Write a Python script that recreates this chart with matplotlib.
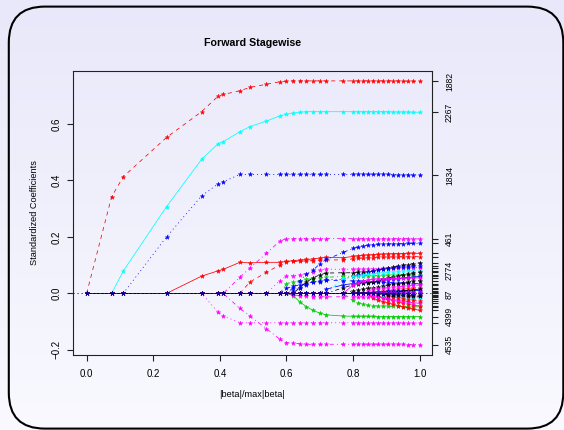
import matplotlib
matplotlib.use('Agg')
import matplotlib.pyplot as plt
from matplotlib.patches import FancyBboxPatch
from matplotlib.colors import LinearSegmentedColormap
import numpy as np

plt.rcParams['font.family'] = ['Liberation Sans', 'DejaVu Sans']
plt.rcParams['lines.scale_dashes'] = False

# step positions |beta|/max|beta| ---------------------------------------------
steps = [0.000, 0.075, 0.110, 0.240, 0.345, 0.395, 0.410, 0.460, 0.490, 0.540, 0.580,
         0.600, 0.620, 0.640, 0.660, 0.680, 0.700, 0.720, 0.770, 0.800, 0.815, 0.830,
         0.845, 0.860, 0.875, 0.890, 0.905, 0.920, 0.935, 0.950, 0.965, 0.980, 1.000]

# coefficient paths (values at each step) -------------------------------------
v1882 = [0, 0.342, 0.413, 0.552, 0.643, 0.698, 0.704, 0.717, 0.729, 0.740, 0.749,
         0.751, 0.752, 0.752, 0.752, 0.752, 0.752, 0.752, 0.752, 0.752, 0.752, 0.752,
         0.752, 0.752, 0.752, 0.752, 0.752, 0.752, 0.752, 0.751, 0.751, 0.751, 0.750]
v2267 = [0, 0, 0.079, 0.307, 0.474, 0.530, 0.537, 0.572, 0.590, 0.610, 0.628,
         0.634, 0.638, 0.641, 0.643, 0.643, 0.643, 0.643, 0.643, 0.643, 0.643, 0.643,
         0.643, 0.643, 0.643, 0.643, 0.643, 0.642, 0.642, 0.642, 0.642, 0.641, 0.641]
v1834 = [0, 0, 0, 0.200, 0.345, 0.388, 0.395, 0.421, 0.421, 0.421, 0.421,
         0.421, 0.421, 0.421, 0.421, 0.421, 0.421, 0.421, 0.421, 0.421, 0.421, 0.421,
         0.421, 0.421, 0.421, 0.421, 0.421, 0.420, 0.420, 0.420, 0.420, 0.419, 0.419]
v461 = [0, 0, 0, 0, 0, 0, 0, 0.057, 0.090, 0.142, 0.185,
        0.194, 0.194, 0.194, 0.194, 0.194, 0.194, 0.194, 0.194, 0.194, 0.194, 0.194,
        0.194, 0.194, 0.194, 0.194, 0.194, 0.194, 0.194, 0.194, 0.194, 0.193, 0.193]
v_red_a = [0, 0, 0, 0, 0.061, 0.080, 0.085, 0.110, 0.108, 0.110, 0.110,
           0.113, 0.116, 0.118, 0.120, 0.122, 0.125, 0.128, 0.126, 0.131, 0.133, 0.135,
           0.136, 0.137, 0.138, 0.139, 0.140, 0.140, 0.141, 0.141, 0.142, 0.142, 0.142]
v_red_b = [0, 0, 0, 0, 0, 0, 0, 0, 0.040, 0.075, 0.100,
           0.112, 0.113, 0.114, 0.115, 0.116, 0.117, 0.118, 0.119, 0.122, 0.124, 0.125,
           0.126, 0.127, 0.128, 0.128, 0.129, 0.129, 0.130, 0.130, 0.130, 0.130, 0.130]
v4535 = [0, 0, 0, 0, 0, 0, 0, -0.053, -0.080, -0.125, -0.162,
         -0.174, -0.177, -0.178, -0.180, -0.180, -0.180, -0.180, -0.180, -0.180, -0.180, -0.180,
         -0.180, -0.180, -0.180, -0.180, -0.180, -0.180, -0.180, -0.180, -0.181, -0.181, -0.181]
v_mag_a = [0, 0, 0, 0, 0, -0.067, -0.079, -0.104, -0.104, -0.104, -0.104,
           -0.104, -0.104, -0.104, -0.104, -0.104, -0.104, -0.104, -0.104, -0.104, -0.104, -0.104,
           -0.104, -0.104, -0.104, -0.104, -0.104, -0.104, -0.104, -0.104, -0.105, -0.105, -0.105]
v_blue_a = [0, 0, 0, 0, 0, 0, 0, 0, 0, 0, 0,
            0, 0.020, 0.045, 0.068, 0.082, 0.105, 0.120, 0.145, 0.159, 0.164, 0.168,
            0.171, 0.173, 0.174, 0.175, 0.175, 0.176, 0.176, 0.176, 0.177, 0.177, 0.177]
v4399 = [0, 0, 0, 0, 0, 0, 0, 0, 0, 0, 0,
         0, -0.008, -0.030, -0.047, -0.060, -0.070, -0.076, -0.080, -0.081, -0.081, -0.081,
         -0.081, -0.081, -0.082, -0.082, -0.082, -0.082, -0.082, -0.082, -0.082, -0.082, -0.082]
v_mag_b = [0, 0, 0, 0, 0, 0, 0, 0, 0, 0, 0.045,
           0.061, 0.063, 0.066, 0.070, 0.076, 0.082, 0.086, 0.085, 0.086, 0.086, 0.087,
           0.087, 0.088, 0.088, 0.089, 0.089, 0.089, 0.090, 0.090, 0.090, 0.091, 0.091]
v_blk_a = [0, 0, 0, 0, 0, 0, 0, 0, 0, 0, 0,
           0, 0, 0.020, 0.040, 0.055, 0.066, 0.072, 0.073, 0.073, 0.074, 0.075,
           0.076, 0.078, 0.082, 0.086, 0.089, 0.093, 0.096, 0.099, 0.102, 0.105, 0.108]
v_blue_b = [0, 0, 0, 0, 0, 0, 0, 0, 0, 0, 0,
            0, 0.010, 0.020, 0.030, 0.040, 0.045, 0.048, 0.050, 0.060, 0.065, 0.070,
            0.075, 0.080, 0.083, 0.086, 0.088, 0.090, 0.092, 0.094, 0.095, 0.097, 0.098]
v2774 = [0, 0, 0, 0, 0, 0, 0, 0, 0, 0, 0,
         0, 0, 0, 0, 0, 0, 0, 0.053, 0.060, 0.063, 0.066,
         0.068, 0.070, 0.072, 0.073, 0.075, 0.076, 0.077, 0.078, 0.079, 0.080, 0.080]
v_grn_a = [0, 0, 0, 0, 0, 0, 0, 0, 0, 0, 0,
           0.035, 0.040, 0.045, 0.050, 0.052, 0.055, 0.057, 0.060, 0.061, 0.062, 0.062,
           0.063, 0.063, 0.063, 0.064, 0.064, 0.064, 0.065, 0.065, 0.065, 0.065, 0.066]
v_blk_b = [0, 0, 0, 0, 0, 0, 0, 0, 0, 0, 0,
           0, 0, 0, 0, 0, 0, 0, 0.020, 0.030, 0.033, 0.036,
           0.038, 0.040, 0.045, 0.050, 0.054, 0.058, 0.062, 0.066, 0.069, 0.072, 0.075]
v_mag_c = [0, 0, 0, 0, 0, 0, 0, 0, 0, 0, 0,
           0, 0, 0, 0, 0, 0, 0, 0, 0.030, 0.038, 0.044,
           0.048, 0.050, 0.051, 0.052, 0.052, 0.053, 0.053, 0.054, 0.054, 0.055, 0.055]
v_blue_c = [0, 0, 0, 0, 0, 0, 0, 0, 0, 0, 0,
            0, 0, 0, 0, 0, 0, 0.015, 0.030, 0.035, 0.037, 0.038,
            0.039, 0.040, 0.043, 0.046, 0.048, 0.050, 0.052, 0.054, 0.056, 0.058, 0.060]
v_blk_c = [0, 0, 0, 0, 0, 0, 0, 0, 0, 0, 0,
           0, 0, 0, 0, 0, 0, 0, 0, 0.008, 0.012, 0.015,
           0.018, 0.020, 0.023, 0.026, 0.029, 0.032, 0.035, 0.038, 0.040, 0.043, 0.045]
v_blue_d = [0, 0, 0, 0, 0, 0, 0, 0, 0, 0, 0,
            0.018, 0.025, 0.030, 0.035, 0.040, 0.041, 0.047, 0.045, 0.044, 0.044, 0.043,
            0.042, 0.041, 0.040, 0.039, 0.038, 0.038, 0.037, 0.036, 0.036, 0.035, 0.035]
v_red_c = [0, 0, 0, 0, 0, 0, 0, 0, 0, 0, 0,
           0, 0, 0, 0, 0, 0, 0, 0, 0, 0, 0,
           0, 0.003, 0.006, 0.008, 0.010, 0.012, 0.014, 0.016, 0.017, 0.019, 0.020]
v_mag_d = [0, 0, 0, 0, 0, 0, 0, 0, 0, 0, 0,
           0, 0, 0, 0, 0, 0, 0, 0, 0, 0, 0,
           0.010, 0.014, 0.016, 0.018, 0.020, 0.022, 0.024, 0.025, 0.027, 0.028, 0.030]
v_blue_e = [0, 0, 0, 0, 0, 0, 0, 0, 0, 0, 0,
            0, 0, 0, 0, 0, 0, 0, 0, 0, 0, 0,
            0, 0.004, 0.005, 0.006, 0.007, 0.008, 0.008, 0.009, 0.009, 0.010, 0.010]
v87 = [0, 0, 0, 0, 0, 0, 0, 0, 0, 0, 0,
       0, 0, 0, 0, 0, 0, 0, 0, 0, 0, 0,
       0, 0, -0.001, -0.001, -0.002, -0.002, -0.003, -0.003, -0.003, -0.004, -0.004]
v_blk_d = [0, 0, 0, 0, 0, 0, 0, 0, 0, 0, 0,
           0, 0, 0, 0, 0, 0, 0, 0, 0, 0, 0,
           0, 0, -0.002, -0.003, -0.004, -0.005, -0.006, -0.007, -0.008, -0.009, -0.010]
v_red_d = [0, 0, 0, 0, 0, 0, 0, 0, 0, 0, 0,
           0, 0, 0, 0, 0, 0, 0, 0, 0, 0, 0,
           0, -0.018, -0.024, -0.029, -0.034, -0.039, -0.043, -0.047, -0.051, -0.055, -0.060]
v_red_e = [0, 0, 0, 0, 0, 0, 0, 0, 0, 0, 0,
           0, 0, 0, 0, 0, 0, 0, 0, 0, 0, 0,
           0, 0, -0.012, -0.018, -0.023, -0.027, -0.031, -0.035, -0.038, -0.042, -0.045]
v_mag_e = [0, 0, 0, 0, 0, 0, 0, 0, 0, 0, 0,
           0, 0, 0, 0, 0, 0, 0, 0, 0, 0, 0,
           0, -0.008, -0.012, -0.016, -0.019, -0.022, -0.025, -0.028, -0.030, -0.033, -0.035]
v_cyan_a = [0, 0, 0, 0, 0, 0, 0, 0, 0, 0, 0,
            0, 0, 0, 0, 0, 0, 0, 0, 0, 0, 0,
            0, 0, 0, -0.004, -0.007, -0.009, -0.011, -0.013, -0.015, -0.018, -0.020]
v_grn_b = [0, 0, 0, 0, 0, 0, 0, 0, 0, 0, 0,
           0, 0, 0, 0, 0, 0, 0, 0, -0.025, -0.033, -0.039,
           -0.042, -0.044, -0.045, -0.045, -0.046, -0.046, -0.046, -0.047, -0.047, -0.047, -0.048]
v_mag_f = [0, 0, 0, 0, 0, 0, 0, 0, 0, 0, 0,
           0, -0.005, -0.008, -0.010, -0.011, -0.012, -0.012, -0.012, -0.012, -0.012, -0.012,
           -0.012, -0.012, -0.013, -0.013, -0.013, -0.013, -0.013, -0.013, -0.013, -0.013, -0.013]
v_red_f = [0, 0, 0, 0, 0, 0, 0, 0, 0, 0, 0,
           0, 0, 0, 0, 0, 0, 0, 0, 0, 0, 0,
           0, 0, 0, 0, -0.008, -0.012, -0.016, -0.019, -0.022, -0.025, -0.028]
v_blk_e = [0, 0, 0, 0, 0, 0, 0, 0, 0, 0, 0,
           0, 0, 0, 0, 0, 0, 0, 0, 0, 0, 0,
           0, 0, 0, 0, 0, 0.003, 0.006, 0.008, 0.010, 0.013, 0.015]
v_mag_g = [0, 0, 0, 0, 0, 0, 0, 0, 0, 0, 0,
           0, 0, 0, 0, 0, 0, 0, 0, 0, 0, 0,
           0, 0, 0, 0, 0.001, 0.002, 0.002, 0.003, 0.004, 0.004, 0.005]
v_zero = [0, 0, 0, 0, 0, 0, 0, 0, 0, 0, 0,
          0, 0, 0, 0, 0, 0, 0, 0, 0, 0, 0,
          0, 0, 0, 0, 0, 0, 0, 0, 0, 0, 0]

# R line types in points (1 px = 0.72 pt)
solid = '-'
dashed = (0, (2.9, 2.9))
dotted = (0, (0.72, 2.2))
dotdash = (0, (0.72, 2.2, 2.9, 2.2))
longdash = (0, (5.0, 2.2))

red, green, blue, cyan, magenta, black = '#FF0000', '#00CD00', '#0000FF', '#00FFFF', '#FF00FF', '#000000'

paths = [
    (v1882, red, dashed, '1882'),
    (v2267, cyan, solid, '2267'),
    (v1834, blue, dotted, '1834'),
    (v_red_a, red, solid, ''),
    (v461, magenta, dotdash, '461'),
    (v_mag_a, magenta, dotted, ''),
    (v4535, magenta, dotdash, '4535'),
    (v_red_b, red, dashed, ''),
    (v_mag_b, magenta, dotted, ''),
    (v_grn_a, green, dotdash, ''),
    (v_blue_d, blue, dashed, ''),
    (v_blue_a, blue, dotdash, ''),
    (v4399, green, solid, '4399'),
    (v_mag_f, magenta, dashed, ''),
    (v_blk_a, black, dashed, ''),
    (v_blue_b, blue, dotted, ''),
    (v_blue_c, blue, longdash, ''),
    (v2774, cyan, dotdash, '2774'),
    (v_blk_b, black, dotdash, ''),
    (v_mag_c, magenta, solid, ''),
    (v_grn_b, green, dashed, ''),
    (v_blk_c, black, dotted, ''),
    (v_red_c, red, dotted, ''),
    (v_mag_d, magenta, dashed, ''),
    (v_blue_e, blue, solid, ''),
    (v_red_d, red, solid, ''),
    (v_red_e, red, dashed, ''),
    (v_mag_e, magenta, longdash, ''),
    (v_cyan_a, cyan, dotted, ''),
    (v_red_f, red, dotdash, ''),
    (v_blk_e, black, solid, ''),
    (v_mag_g, magenta, dotted, ''),
    (v_blk_d, black, dashed, ''),
    (v_zero, magenta, dotted, ''),
    (v87, black, dotted, '87'),
    (v_zero, blue, dotted, ''),
]

# figure ---------------------------------------------------------------------
W, H = 564, 430
fig = plt.figure(figsize=(W / 100, H / 100), dpi=100)

bg = fig.add_axes([0, 0, 1, 1])
bg.set_xlim(0, W)
bg.set_ylim(H, 0)
bg.axis('off')
grad = np.linspace(0, 1, 256).reshape(-1, 1)
bg_cmap = LinearSegmentedColormap.from_list('bg', ['#e8e8fa', '#f9f9ff'])
bg.imshow(grad, extent=[0, W, H, 0], aspect='auto', cmap=bg_cmap)
bg.add_patch(FancyBboxPatch((8.8, 6.6), 554.5, 422.0,
                            boxstyle='round,pad=0,rounding_size=36',
                            fill=False, lw=1.5, ec='black'))

ax = fig.add_axes([73.3 / W, 1 - 355 / H, (431.7 - 73.3) / W, (355 - 71) / H])
ax.patch.set_alpha(0)
ax.set_xlim(-0.04, 1.036)
ax.set_ylim(-0.218, 0.787)

for vals, col, ls, lab in paths:
    a = 0.6 if vals is v_zero and col == blue else 1.0
    ax.plot(steps, vals, color=col, ls=ls, lw=0.55, marker='*', ms=3.3, mew=0.3,
            mec=col, alpha=a)

ax.axhline(0, color='black', ls=dotted, lw=0.7)

for sp in ax.spines.values():
    sp.set_linewidth(0.8)
    sp.set_color('#222222')

ax.set_xticks([0.0, 0.2, 0.4, 0.6, 0.8, 1.0])
ax.set_xticklabels(['0.0', '0.2', '0.4', '0.6', '0.8', '1.0'])
ax.set_yticks([-0.2, 0.0, 0.2, 0.4, 0.6])
ax.set_yticklabels(['\u22120.2', '0.0', '0.2', '0.4', '0.6'], rotation=90, va='center')
ax.tick_params(axis='both', length=4, width=0.8, color='#222222', labelsize=7, pad=4.5)
ax.tick_params(axis='x', pad=6)

ax.set_title('Forward Stagewise', fontsize=7.7, fontweight='bold', pad=18)
ax.set_xlabel('|beta|/max|beta|', fontsize=6.6, labelpad=8)
ax.set_ylabel('Standardized Coefficients', fontsize=6.6, labelpad=9)

# right axis: final coefficient of each path ----------------------------------
ax2 = ax.twinx()
ax2.set_ylim(ax.get_ylim())
ax2.set_yticks([p[0][-1] for p in paths])
ax2.set_yticklabels([p[3] for p in paths], rotation=90, va='center')
ax2.tick_params(axis='y', length=4, width=0.8, color='#222222', labelsize=6.2, pad=5.5)
for sp in ax2.spines.values():
    sp.set_visible(False)

fig.savefig('out.png', dpi=100)
